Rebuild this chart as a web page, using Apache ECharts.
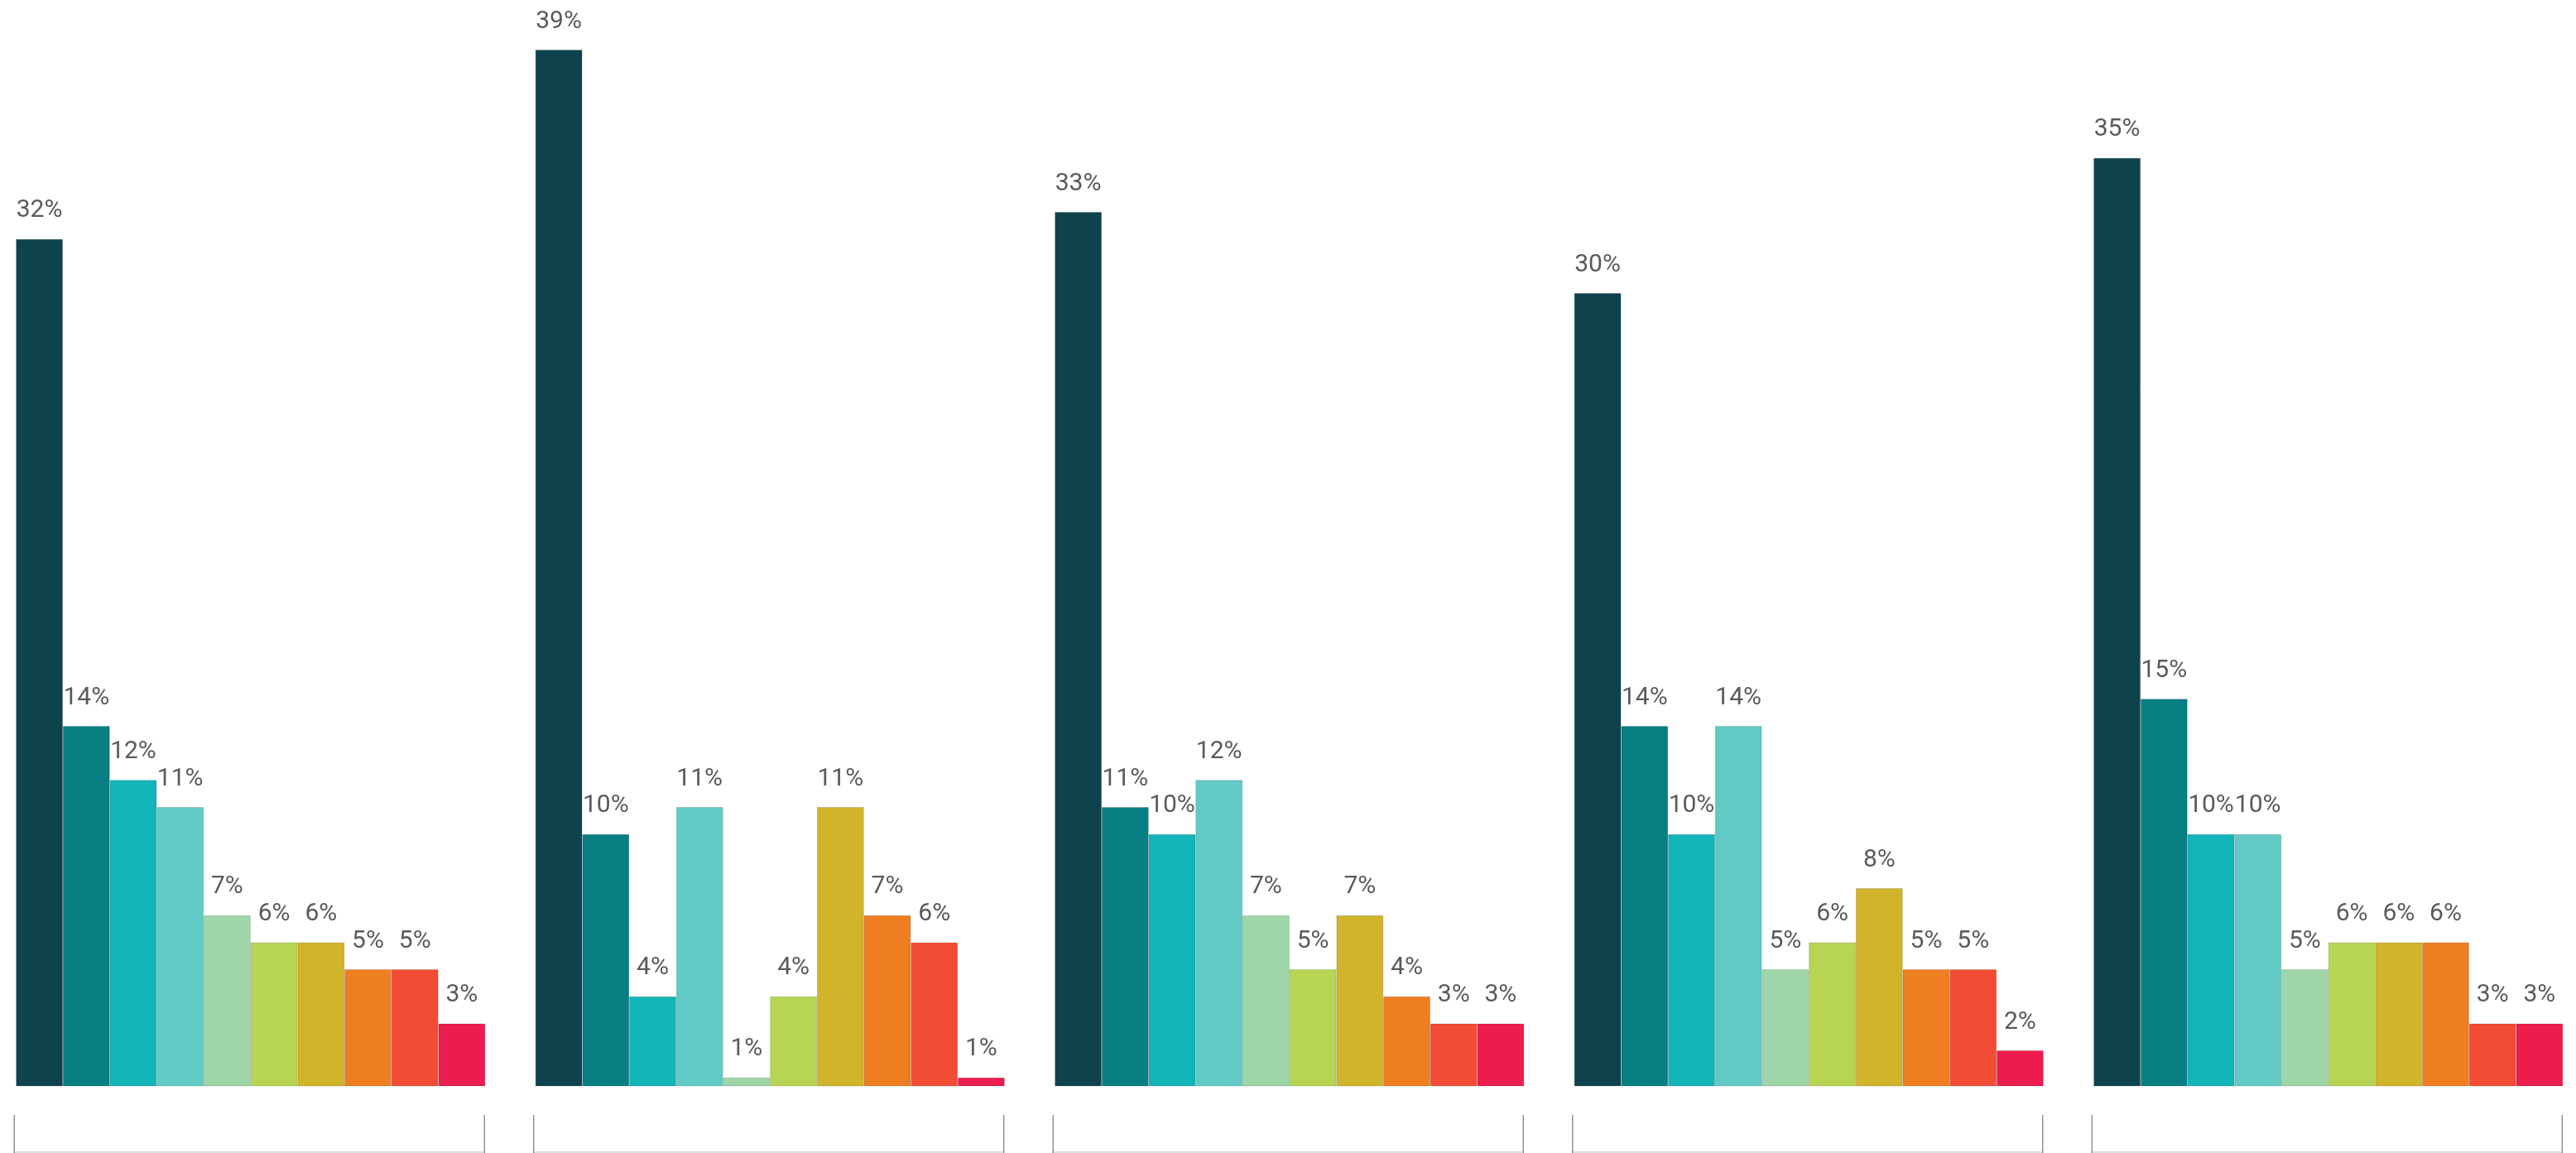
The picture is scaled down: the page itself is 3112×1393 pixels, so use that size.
<!DOCTYPE html>
<html>
<head>
<meta charset="utf-8">
<script src="https://cdn.jsdelivr.net/npm/echarts@6/dist/echarts.min.js"></script>
<style>
html,body{margin:0;padding:0;background:#fff;overflow:hidden;width:3112px;height:1393px;position:relative;}
#chart{position:absolute;left:-11.25px;top:0;width:3140px;height:1393px;}
</style>
</head>
<body>
<div id="chart"></div>
<script>
// Groups (x categories)
const groups = ['Group 1', 'Group 2', 'Group 3', 'Group 4', 'Group 5'];
// Ten answer categories (one colour each)
const seriesNames = ['Item 1','Item 2','Item 3','Item 4','Item 5','Item 6','Item 7','Item 8','Item 9','Item 10'];
const colors = ['#0E434D','#087F83','#12B5B8','#62CAC5','#9ED6A9','#B7D553','#D1B42A','#EF7E21','#F24C35','#EE1C4E'];
// Values (%) per group, in series order
const group1 = [32, 14, 12, 11, 7, 6, 6, 5, 5, 3];
const group2 = [39, 10, 4, 11, 1, 4, 11, 7, 6, 1];
const group3 = [33, 11, 10, 12, 7, 5, 7, 4, 3, 3];
const group4 = [30, 14, 10, 14, 5, 6, 8, 5, 5, 2];
const group5 = [35, 15, 10, 10, 5, 6, 6, 6, 3, 3];

const groupValues = [group1, group2, group3, group4, group5];
const Y_MIN = 0.69, Y_MAX = 40.84;
const CAT_GAP = 0.0964;

const chart = echarts.init(document.getElementById('chart'), null, {renderer: 'canvas'});

const barSeries = seriesNames.map((name, i) => ({
  name: name,
  type: 'bar',
  barGap: 0,
  barCategoryGap: (CAT_GAP * 100) + '%',
  data: groupValues.map(g => g[i]),
  itemStyle: {color: colors[i], borderColor: 'rgba(0,0,0,0.18)', borderWidth: 0.8},
  label: {
    show: true,
    position: 'top',
    distance: 19,
    formatter: '{c}%',
    color: '#5a5a5a',
    fontFamily: 'Roboto',
    fontSize: 30
  },
  animation: false
}));

const bracketSeries = {
  type: 'custom',
  silent: true,
  animation: false,
  data: groups.map((g, i) => [i]),
  renderItem: function (params, api) {
    const idx = api.value(0);
    const c = api.coord([idx, Y_MIN]);
    const cw = api.size([1, 0])[0];
    const half = cw * (1 - CAT_GAP) / 2;
    const x0 = c[0] - half - 2, x1 = c[0] + half - 1;
    const yb = c[1];
    return {
      type: 'group',
      children: [
        {type: 'line', shape: {x1: x0, y1: yb + 80, x2: x1, y2: yb + 80}, style: {stroke: '#d4d4d4', lineWidth: 1.5}},
        {type: 'line', shape: {x1: x0, y1: yb + 35, x2: x0, y2: yb + 81}, style: {stroke: '#7a7a7a', lineWidth: 1.2}},
        {type: 'line', shape: {x1: x1, y1: yb + 35, x2: x1, y2: yb + 81}, style: {stroke: '#7a7a7a', lineWidth: 1.2}}
      ]
    };
  }
};

chart.setOption({
  backgroundColor: '#ffffff',
  animation: false,
  grid: {left: 0, right: 2.5, top: 0, bottom: 81, containLabel: false},
  xAxis: {
    type: 'category',
    data: groups,
    axisLine: {show: false},
    axisTick: {show: false},
    axisLabel: {show: false},
    splitLine: {show: false}
  },
  yAxis: {
    type: 'value',
    min: Y_MIN,
    max: Y_MAX,
    show: false,
    splitLine: {show: false}
  },
  series: barSeries.concat([bracketSeries])
});
</script>
</body>
</html>
